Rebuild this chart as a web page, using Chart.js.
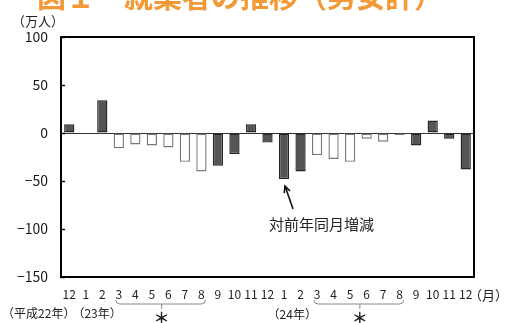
<!DOCTYPE html>
<html>
<head>
<meta charset="utf-8">
<script src="https://cdn.jsdelivr.net/npm/chart.js@4.4.1/dist/chart.umd.min.js"></script>
<style>
  html, body { margin: 0; padding: 0; background: #fff; }
  #wrap { width: 511px; height: 323px; position: relative; overflow: hidden; }
</style>
</head>
<body>
<div id="wrap"><canvas id="c" width="511" height="323"></canvas></div>
<script>
// Month labels: Dec 2010 through Dec 2012
const months = ['12','1','2','3','4','5','6','7','8','9','10','11','12',
                '1','2','3','4','5','6','7','8','9','10','11','12'];
// Year-on-year change in employed persons (10,000 persons)
const change = [9, null, 34, -16, -12, -13, -15, -30, -40, -34, -22, 9, -10,
                -48, -40, -23, -27, -30, -6, -9, -2, -13, 13, -6, -38];
// 1 = supplementary estimate (drawn hollow)
const supplementary = [0, 0, 0, 1, 1, 1, 1, 1, 1, 0, 0, 0, 0,
                       0, 0, 1, 1, 1, 1, 1, 1, 0, 0, 0, 0];
const yTicks = [100, 50, 0, -50, -100, -150];

const FONT = "'Noto Sans CJK JP', 'Noto Sans', sans-serif";

const extras = {
  id: 'extras',
  afterDraw(chart) {
    const ctx = chart.ctx;
    const a = chart.chartArea;
    const xs = chart.scales.x, ys = chart.scales.y;
    ctx.save();

    // title (top line partly outside the canvas)
    ctx.fillStyle = '#f39a36';
    ctx.font = 'bold 29px ' + FONT;
    ctx.textAlign = 'left';
    ctx.textBaseline = 'alphabetic';
    ctx.fillText('図１　就業者の推移（男女計）', 37, 8);

    // frame
    ctx.strokeStyle = '#000';
    ctx.lineWidth = 2;
    ctx.strokeRect(a.left, a.top, a.right - a.left, a.bottom - a.top);

    // inner tick marks on the value axis
    ctx.lineWidth = 1.5;
    yTicks.forEach(v => {
      const y = Math.round(ys.getPixelForValue(v)) + 0.5;
      ctx.beginPath();
      ctx.moveTo(a.left, y);
      ctx.lineTo(a.left + 4, y);
      ctx.stroke();
    });

    // unit label
    ctx.fillStyle = '#222';
    ctx.font = '13px ' + FONT;
    ctx.textBaseline = 'middle';
    ctx.fillText('（万人）', 12, 21);

    // month unit after the last tick label
    ctx.font = '13px ' + FONT;
    ctx.fillText('（月）', 469, 295);

    // year labels
    const mid = (i, j) => (xs.getPixelForValue(i) + xs.getPixelForValue(j)) / 2;
    ctx.font = '12px ' + FONT;
    ctx.textAlign = 'center';
    const y23 = mid(1, 2) + 3;
    ctx.fillText('（23年）', y23, 313);
    const w23 = ctx.measureText('（23年）').width;
    ctx.textAlign = 'right';
    ctx.fillText('（平成22年）', y23 - w23 / 2 + 3, 313);
    ctx.textAlign = 'center';
    ctx.fillText('（24年）', mid(13, 14), 314);

    // braces under the supplementary-estimate months
    [[3, 8], [15, 20]].forEach(([i, j]) => {
      const l = xs.getPixelForValue(i) - 3;
      const r = xs.getPixelForValue(j) + 4;
      const c = (l + r) / 2 + 1;
      const yb = 304;
      ctx.strokeStyle = '#8a8a8a';
      ctx.lineWidth = 1;
      ctx.beginPath();
      ctx.moveTo(l, yb - 4);
      ctx.quadraticCurveTo(l, yb, l + 4, yb);
      ctx.lineTo(r - 4, yb);
      ctx.quadraticCurveTo(r, yb, r, yb - 4);
      ctx.stroke();
      ctx.beginPath();
      ctx.moveTo(c, yb);
      ctx.lineTo(c, yb + 5);
      ctx.stroke();
      ctx.fillStyle = '#222';
      ctx.font = 'bold 16px ' + FONT;
      ctx.textBaseline = 'top';
      ctx.fillText('＊', c, 310);
    });

    // annotation with arrow pointing at the Jan 2012 bar
    const tipX = xs.getPixelForValue(13) + 1;
    const tipY = ys.getPixelForValue(change[13]) + 7;
    const tailX = tipX + 8, tailY = tipY + 23;
    ctx.strokeStyle = '#111';
    ctx.lineWidth = 1.6;
    ctx.beginPath();
    ctx.moveTo(tailX, tailY);
    ctx.lineTo(tipX, tipY);
    ctx.stroke();
    const ang = Math.atan2(tipY - tailY, tipX - tailX);
    ctx.beginPath();
    ctx.moveTo(tipX - 7 * Math.cos(ang - 0.45), tipY - 7 * Math.sin(ang - 0.45));
    ctx.lineTo(tipX, tipY);
    ctx.lineTo(tipX - 7 * Math.cos(ang + 0.45), tipY - 7 * Math.sin(ang + 0.45));
    ctx.stroke();

    ctx.fillStyle = '#222';
    ctx.font = '15px ' + FONT;
    ctx.textAlign = 'left';
    ctx.textBaseline = 'middle';
    ctx.fillText('対前年同月増減', 269, 224);

    ctx.restore();
  }
};

new Chart(document.getElementById('c'), {
  type: 'bar',
  data: {
    labels: months,
    datasets: [{
      data: change,
      backgroundColor: c => supplementary[c.dataIndex] ? '#ffffff' : '#555555',
      borderColor: c => supplementary[c.dataIndex] ? '#777777' : '#262626',
      borderWidth: 1.4,
      borderSkipped: false,
      categoryPercentage: 1,
      barPercentage: 0.62
    }]
  },
  options: {
    responsive: false,
    animation: false,
    layout: { padding: { top: 37, right: 37, left: 0, bottom: 0 } },
    plugins: { legend: { display: false }, tooltip: { enabled: false } },
    scales: {
      x: {
        grid: { display: false, drawTicks: false },
        border: { display: false },
        ticks: {
          color: '#222',
          font: { family: FONT, size: 12 },
          padding: 10,
          maxRotation: 0,
          autoSkip: false
        },
        afterFit(s) { s.height = 46; }
      },
      y: {
        min: -150,
        max: 100,
        afterBuildTicks(s) { s.ticks = yTicks.map(v => ({ value: v })); },
        grid: {
          drawTicks: false,
          color: c => (c.tick && c.tick.value === 0) ? '#333' : 'rgba(0,0,0,0)',
          lineWidth: 1
        },
        border: { display: false },
        ticks: {
          color: '#1a1a1a',
          font: { family: FONT, size: 14 },
          padding: 13,
          callback: v => String(v).replace('-', '\u2212')
        },
        afterFit(s) { s.width = 61; }
      }
    }
  },
  plugins: [extras]
});
</script>
</body>
</html>
